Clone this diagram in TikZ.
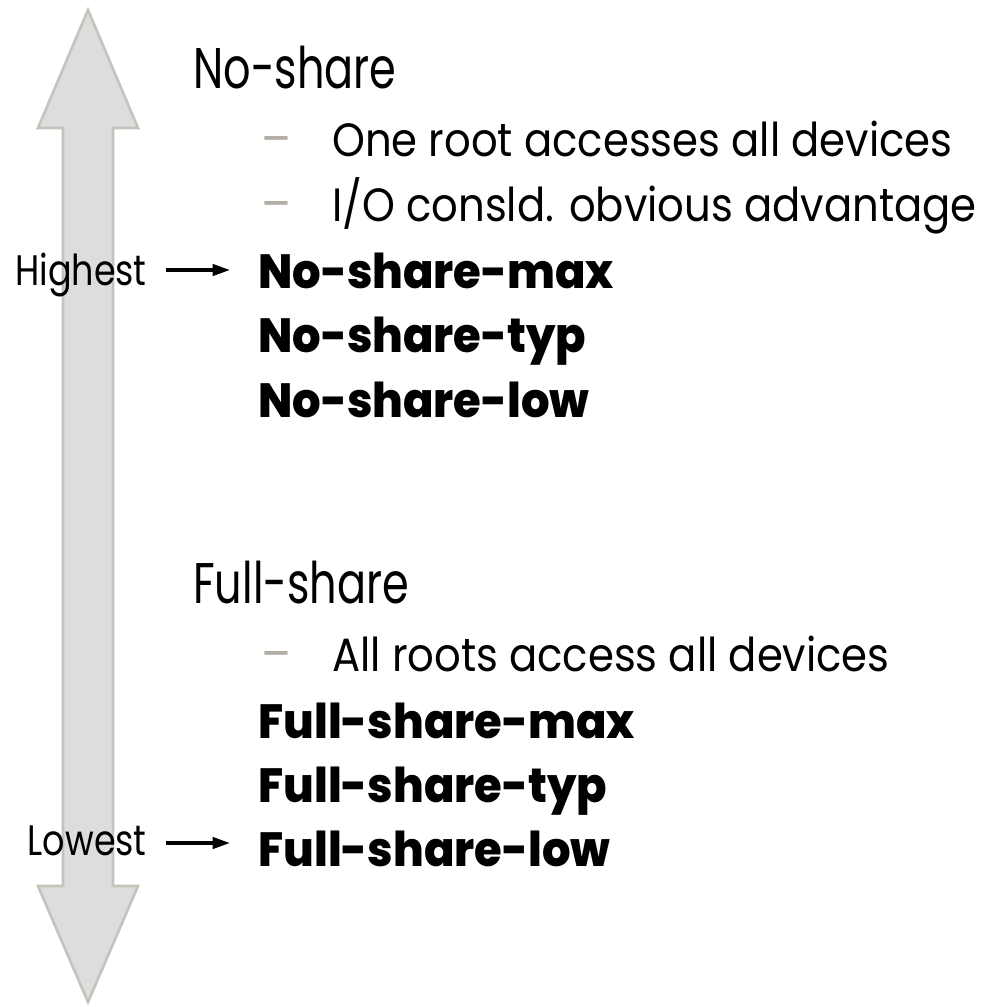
\documentclass[tikz,border=0pt]{standalone}
\usepackage{fontspec}
\setmainfont{Poppins}[FakeStretch=0.82]
\newfontfamily\headfont{Poppins}[FakeStretch=0.75]
\newfontfamily\itemfont{Poppins}[FakeStretch=0.895]
\newfontfamily\levelfont{Poppins}[UprightFont=* ExtraBold, FakeStretch=0.935]
\usetikzlibrary{arrows.meta}
\definecolor{barfill}{RGB}{221,221,221}
\definecolor{barline}{RGB}{198,196,186}
\definecolor{dashgray}{RGB}{178,174,166}
\tikzset{
  head/.style={anchor=base west, inner sep=0pt, font=\headfont\fontsize{43}{43}\selectfont},
  item/.style={anchor=base west, inner sep=0pt, font=\itemfont\fontsize{35}{35}\selectfont},
  dashmark/.style={anchor=base, inner sep=0pt, text=dashgray, font=\itemfont\fontsize{37}{37}\selectfont},
  level/.style={anchor=base west, inner sep=0pt, font=\levelfont\fontsize{36}{36}\selectfont},
  tag/.style={anchor=base east, inner sep=0pt, font=\fontsize{32}{32}\selectfont},
  ptr/.style={line width=2.4pt, -{Triangle[length=13pt,width=8.5pt]}}
}
\begin{document}
\begin{tikzpicture}[x=0.75pt, y=-0.75pt]
\useasboundingbox (0,0) rectangle (992,1007);
% the up/down bar
\filldraw [fill=barfill, draw=barline, line width=2pt]
  (88,10) -- (138,128) -- (113,128) -- (113,886) -- (138,886) -- (88,1002)
  -- (38,886) -- (63,886) -- (63,128) -- (38,128) -- cycle;
% no-share block
\node [head] (nshead) at (193,88) {No-share};
\node [dashmark] (d1) at (276,156) {–};
\node [item] (i1) at (332,156) {One root accesses all devices};
\node [dashmark] (d2) at (276,221) {–};
\node [item] (i2) at (332,221) {I/O consld. obvious advantage};
\node [level] (nsmax) at (258,288) {No-share-max};
\node [level] (nstyp) at (258,352) {No-share-typ};
\node [level] (nslow) at (258,417) {No-share-low};
% full-share block
\node [head] (fshead) at (193,603) {Full-share};
\node [dashmark] (d3) at (276,671) {–};
\node [item] (i3) at (332,671) {All roots access all devices};
\node [level] (fsmax) at (258,738) {Full-share-max};
\node [level] (fstyp) at (258,802) {Full-share-typ};
\node [level] (fslow) at (258,866) {Full-share-low};
% ends
\node [tag] (hi) at (147,285) {Highest};
\node [tag] (lo) at (147,855) {Lowest};
\draw [ptr] ([shift={(19,-15)}]hi.base east) -- ([shift={(-28,-18)}]nsmax.base west);
\draw [ptr] ([shift={(19,-12)}]lo.base east) -- ([shift={(-28,-23)}]fslow.base west);
\end{tikzpicture}
\end{document}
